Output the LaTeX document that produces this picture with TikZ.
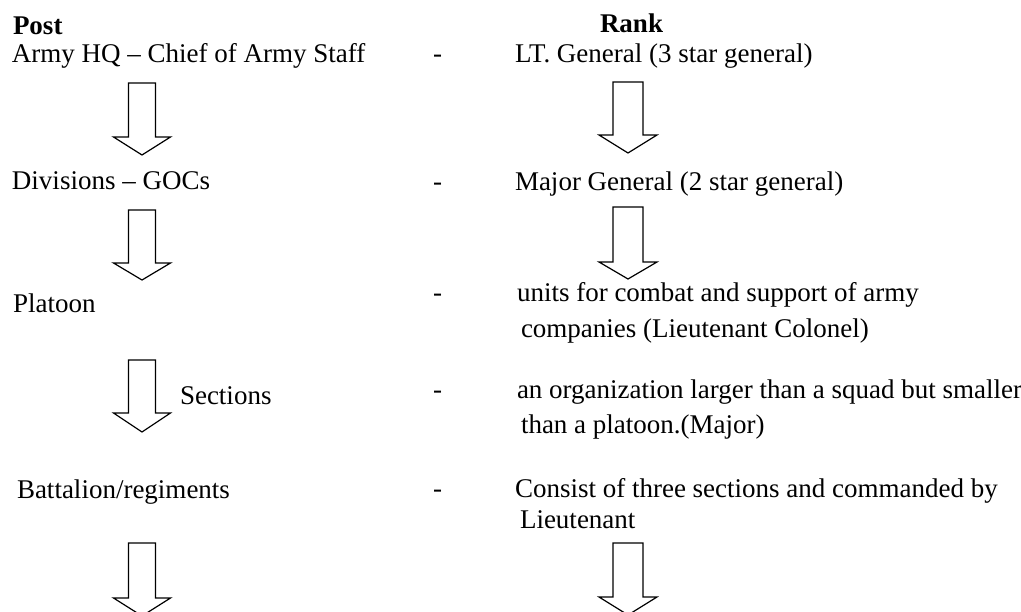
\documentclass[tikz,border=0pt]{standalone}
\usepackage{fontspec}
\setmainfont{Liberation Serif}
\newcommand\myblockarrow[7]{% name, x, ytop, yhead, ytip, shaft half, head half
  \coordinate (#1-top) at (#2,#3);
  \coordinate (#1-tip) at (#2,#5);
  \draw[blockarr] ($(#1-top)+(-#6,0)$) -- ($(#1-top)+(#6,0)$) -- (#2+#6,#4) -- (#2+#7,#4)
     -- (#1-tip) -- (#2-#7,#4) -- (#2-#6,#4) -- cycle;}
\usetikzlibrary{calc}
\begin{document}
\begin{tikzpicture}[x=1pt,y=-1pt,
  txt/.style={anchor=base west,inner sep=0pt,outer sep=0pt,font=\fontsize{27}{32}\selectfont},
  head/.style={txt,font=\fontsize{27}{32}\selectfont\bfseries},
  blockarr/.style={draw=black,line width=1.2pt,line join=miter,fill=white}]
\useasboundingbox (0,0) rectangle (1021,612);
% headings
\node[head] (post) at (13,35) {Post};
\node[head] (rank) at (600,33) {Rank};
% left column
\node[txt] (l1) at (12,63) {Army HQ -- Chief of Army Staff};
\node[txt] (l2) at (12,190) {Divisions -- GOCs};
\node[txt] (l3) at (13,313) {Platoon};
\node[txt] (l4) at (180,405) {Sections};
\node[txt] (l5) at (17,498) {Battalion/regiments};
% dashes
\node[txt] (d1) at (433,63) {-};
\node[txt] (d2) at (433,191) {-};
\node[txt] (d3) at (433,302) {-};
\node[txt] (d4) at (433,399) {-};
\node[txt] (d5) at (433,497) {-};
% right column
\node[txt] (r1) at (515,63) {LT. General (3 star general)};
\node[txt] (r2) at (515,191) {Major General (2 star general)};
\node[txt] (r3a) at (517,302) {units for combat and support of army};
\node[txt] (r3b) at (521,338) {companies (Lieutenant Colonel)};
\node[txt] (r4a) at (517,399) {an organization larger than a squad but smaller};
\node[txt] (r4b) at (521,434) {than a platoon.(Major)};
\node[txt] (r5a) at (515,497) {Consist of three sections and commanded by};
\node[txt] (r5b) at (520,528) {Lieutenant};
% block arrows
\myblockarrow{la}{142}{83}{137}{155}{13.5}{28.5}
\myblockarrow{lb}{142}{210}{263}{280}{13.5}{28.5}
\myblockarrow{lc}{142}{360}{413}{432}{13.5}{28.5}
\myblockarrow{ld}{142}{543}{598}{616}{13.5}{28.5}
\myblockarrow{ra}{628}{82}{135}{153}{15}{29}
\myblockarrow{rb}{628}{207}{262}{279}{15}{29}
\myblockarrow{rc}{628}{543}{597}{615}{15}{29}
\end{tikzpicture}
\end{document}
